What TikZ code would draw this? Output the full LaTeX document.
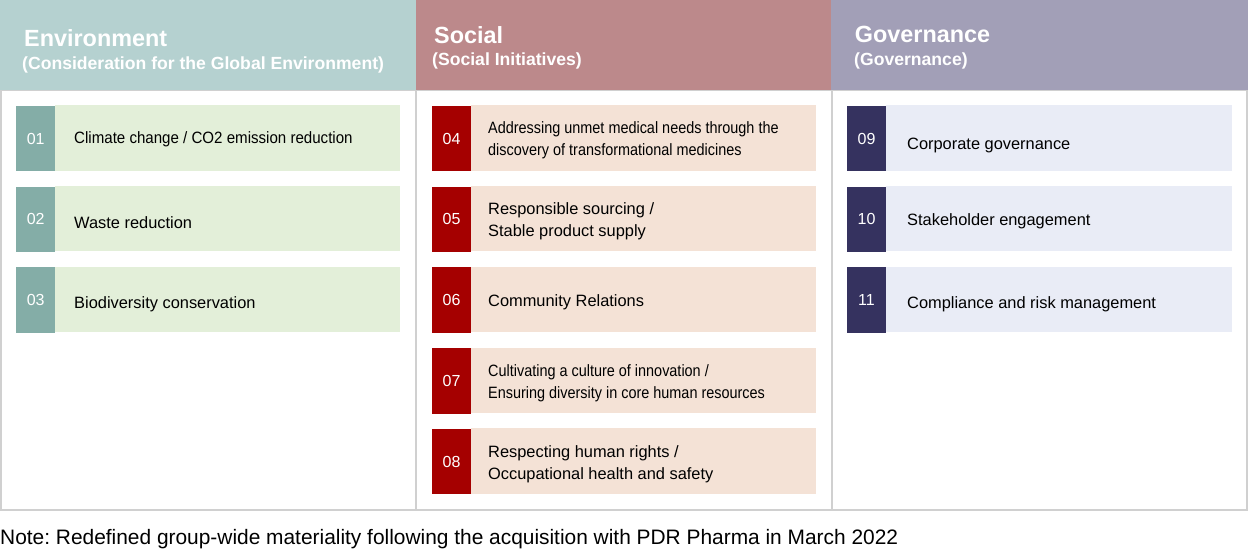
\documentclass[tikz,border=0pt]{standalone}
\usepackage{fontspec}
\setmainfont{Liberation Sans}
\newfontfamily\condfont[FakeStretch=0.92]{Liberation Sans}
\newfontfamily\condfontb[FakeStretch=0.88]{Liberation Sans}
\definecolor{envh}{HTML}{B5D1D0}
\definecolor{soch}{HTML}{BC898B}
\definecolor{govh}{HTML}{A29FB7}
\definecolor{envn}{HTML}{84ADA7}
\definecolor{envl}{HTML}{E3EFD9}
\definecolor{socn}{HTML}{A50000}
\definecolor{socl}{HTML}{F4E2D6}
\definecolor{govn}{HTML}{35325F}
\definecolor{govl}{HTML}{E9ECF6}
\definecolor{panelc}{HTML}{D0D0D0}
\tikzset{
  panel/.style={draw=panelc, line width=1.5pt},
  htitle/.style={anchor=base west, inner sep=0pt, text=white, font=\bfseries\fontsize{23.4}{26}\selectfont},
  hsub/.style={anchor=base west, inner sep=0pt, text=white, font=\bfseries\fontsize{17.6}{20}\selectfont},
  numbox/.style={rectangle, inner sep=0pt, minimum width=39pt, minimum height=65.5pt, text=white, font=\fontsize{16}{16}\selectfont},
  itembox/.style={rectangle, inner sep=0pt, anchor=west, minimum height=65.5pt},
  itemtext/.style={anchor=west, inner sep=0pt, align=left, text=black, font=\fontsize{16.4}{22}\selectfont},
  condtext/.style={anchor=west, inner sep=0pt, align=left, text=black, font=\condfont\fontsize{16.4}{22}\selectfont},
  condtextb/.style={anchor=west, inner sep=0pt, align=left, text=black, font=\condfontb\fontsize{16.4}{22}\selectfont},
}
\begin{document}
\frenchspacing
\begin{tikzpicture}[x=1pt,y=-1pt]
\useasboundingbox (0,0) rectangle (1248,551);
\fill[white] (0,0) rectangle (1248,551);
% panels
\draw[panel] (1,90) rectangle (416,510);
\draw[panel] (416,90) rectangle (832,510);
\draw[panel] (832,90) rectangle (1247,510);
% headers
\fill[envh] (0,0) rectangle (415.5,90);
\fill[soch] (415.5,0) rectangle (831,90);
\fill[govh] (831,0) rectangle (1248,90);
\node[htitle] (hEnv) at (24,46.7) {Environment};
\node[hsub] (sEnv) at (22,70) {(Consideration for the Global Environment)};
\node[htitle] (hSoc) at (434,43.3) {Social};
\node[hsub] (sSoc) at (432,65.7) {(Social Initiatives)};
\node[htitle] (hGov) at (854.7,42.3) {Governance};
\node[hsub] (sGov) at (854,65.7) {(Governance)};
% Environment items
\node[itembox, fill=envl, minimum width=345pt] (b01) at (55,137.9) {};
\node[numbox, fill=envn] (n01) at (35.7,138.5) {01};
\node[condtext] (t01) at (74,139.5) {Climate change / CO2 emission reduction};
\node[itembox, fill=envl, minimum width=345pt] (b02) at (55,218.7) {};
\node[numbox, fill=envn] (n02) at (35.7,219.3) {02};
\node[itemtext] (t02) at (74,222.5) {Waste reduction};
\node[itembox, fill=envl, minimum width=345pt] (b03) at (55,299.5) {};
\node[numbox, fill=envn] (n03) at (35.7,300.1) {03};
\node[itemtext] (t03) at (74,304) {Biodiversity conservation};
% Social items
\node[itembox, fill=socl, minimum width=345pt] (b04) at (471,137.9) {};
\node[numbox, fill=socn] (n04) at (451.5,138.5) {04};
\node[condtextb] (t04) at (488,140.5) {Addressing unmet medical needs through the\\discovery of transformational medicines};
\node[itembox, fill=socl, minimum width=345pt] (b05) at (471,218.7) {};
\node[numbox, fill=socn] (n05) at (451.5,219.3) {05};
\node[itemtext] (t05) at (488,221) {Responsible sourcing /\\Stable product supply};
\node[itembox, fill=socl, minimum width=345pt] (b06) at (471,299.5) {};
\node[numbox, fill=socn] (n06) at (451.5,300.1) {06};
\node[itemtext] (t06) at (488,302.5) {Community Relations};
\node[itembox, fill=socl, minimum width=345pt] (b07) at (471,380.3) {};
\node[numbox, fill=socn] (n07) at (451.5,380.9) {07};
\node[condtextb] (t07) at (488,383.5) {Cultivating a culture of innovation /\\Ensuring diversity in core human resources};
\node[itembox, fill=socl, minimum width=345pt] (b08) at (471,461.1) {};
\node[numbox, fill=socn] (n08) at (451.5,461.7) {08};
\node[itemtext] (t08) at (488,464.5) {Respecting human rights /\\Occupational health and safety};
% Governance items
\node[itembox, fill=govl, minimum width=345.5pt] (b09) at (886,137.9) {};
\node[numbox, fill=govn] (n09) at (866.5,138.5) {09};
\node[itemtext] (t09) at (907,145.5) {Corporate governance};
\node[itembox, fill=govl, minimum width=345.5pt] (b10) at (886,218.7) {};
\node[numbox, fill=govn] (n10) at (866.5,219.3) {10};
\node[itemtext] (t10) at (907,221.5) {Stakeholder engagement};
\node[itembox, fill=govl, minimum width=345.5pt] (b11) at (886,299.5) {};
\node[numbox, fill=govn] (n11) at (866.5,300.1) {11};
\node[itemtext] (t11) at (907,304.5) {Compliance and risk management};
% note
\node[anchor=base west, inner sep=0pt, font=\fontsize{20.9}{24}\selectfont] (note) at (0,544.5) {Note: Redefined group-wide materiality following the acquisition with PDR Pharma in March 2022};
\end{tikzpicture}
\end{document}
